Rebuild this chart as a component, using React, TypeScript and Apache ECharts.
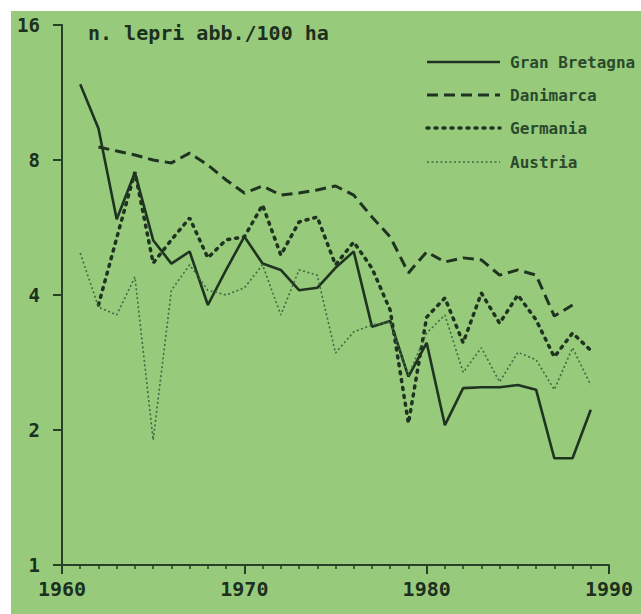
import React, { useEffect, useRef } from "react";
import * as echarts from "echarts";

const years = [1961, 1962, 1963, 1964, 1965, 1966, 1967, 1968, 1969, 1970, 1971, 1972, 1973, 1974, 1975, 1976, 1977, 1978, 1979, 1980, 1981, 1982, 1983, 1984, 1985, 1986, 1987, 1988, 1989];
const granBretagna = [11.8, 9.4, 5.9, 7.5, 5.3, 4.7, 5.0, 3.8, 4.55, 5.4, 4.7, 4.55, 4.1, 4.15, 4.6, 5.0, 3.4, 3.5, 2.63, 3.13, 2.05, 2.48, 2.49, 2.49, 2.52, 2.46, 1.73, 1.73, 2.22];
const danimarca = [null, 8.55, 8.38, 8.21, 8.0, 7.88, 8.29, 7.8, 7.22, 6.75, 7.0, 6.68, 6.75, 6.86, 7.0, 6.68, 5.97, 5.39, 4.48, 4.99, 4.74, 4.84, 4.79, 4.43, 4.55, 4.43, 3.59, 3.8, null];
const germania = [null, 3.8, 5.36, 7.52, 4.71, 5.31, 5.94, 4.84, 5.31, 5.39, 6.35, 4.91, 5.82, 5.97, 4.67, 5.25, 4.59, 3.7, 2.07, 3.57, 3.94, 3.13, 4.04, 3.46, 4.0, 3.52, 2.91, 3.29, 3.01];
const austria = [4.96, 3.76, 3.61, 4.39, 1.9, 4.1, 4.67, 4.1, 4.0, 4.15, 4.67, 3.61, 4.55, 4.43, 2.97, 3.31, 3.43, 3.48, 2.65, 3.29, 3.61, 2.69, 3.05, 2.56, 2.98, 2.87, 2.46, 3.05, 2.52];
const seriesNames = ["Gran Bretagna", "Danimarca", "Germania", "Austria"];
const titleText = "n. lepri abb./100 ha";

const FONT = "'DejaVu Sans Mono', 'Liberation Mono', monospace";
const INK = "#1c301e";
const DARK = "#1e3421";
const LIGHT = "#3d6a43";

const styles = [
  { color: DARK, width: 2.6, dash: null as number[] | null, cap: "butt" },
  { color: DARK, width: 3, dash: [11, 6], cap: "butt" },
  { color: DARK, width: 3.5, dash: [2, 6], cap: "round" },
  { color: LIGHT, width: 1.6, dash: [2, 2.5], cap: "butt" },
];

function pairs(vals: (number | null)[]) {
  const out: [number, number][] = [];
  vals.forEach((v, i) => {
    if (v !== null) out.push([years[i], v]);
  });
  return out;
}

export default function App() {
  const ref = useRef<HTMLDivElement>(null);
  useEffect(() => {
    document.body.style.margin = "0";
    const chart = echarts.init(ref.current!, null, { renderer: "svg" });
    const legendYs = [62, 95, 128, 162];
    const legendGraphics: any[] = [];
    seriesNames.forEach((name, i) => {
      const s = styles[i];
      legendGraphics.push({
        type: "line",
        z: 10,
        shape: { x1: 427, y1: legendYs[i], x2: 500, y2: legendYs[i] },
        style: { stroke: s.color, lineWidth: s.width, lineDash: s.dash || undefined, lineCap: s.cap },
      });
      legendGraphics.push({
        type: "text",
        z: 10,
        x: 510,
        y: legendYs[i],
        style: { text: name, font: `bold 16px ${FONT}`, fill: "#2a4a2c", textVerticalAlign: "middle" },
      });
    });
    chart.setOption({
      animation: false,
      backgroundColor: "#ffffff",
      graphic: [
        { type: "rect", z: -10, silent: true, shape: { x: 11, y: 11, width: 640, height: 610 }, style: { fill: "#98ca7c" } },
        {
          type: "text", x: 88, y: 33, z: 10,
          style: { text: titleText, font: `bold 20px ${FONT}`, fill: INK, textVerticalAlign: "middle" },
        },
        ...legendGraphics,
      ],
      grid: { left: 62, right: 32, top: 25, bottom: 49 },
      xAxis: {
        type: "value",
        min: 1960,
        max: 1990,
        interval: 10,
        splitLine: { show: false },
        axisLine: { lineStyle: { color: "#254228", width: 2 } },
        axisTick: { show: true, length: 9, lineStyle: { color: "#254228", width: 2 } },
        minorTick: { show: true, splitNumber: 10, length: 4, lineStyle: { color: "#254228", width: 1.5 } },
        axisLabel: {
          margin: 14, fontFamily: FONT, fontSize: 20, fontWeight: "bold", color: INK,
          formatter: (v: number) => String(v),
        },
      },
      yAxis: {
        type: "log",
        logBase: 2,
        min: 1,
        max: 16,
        splitLine: { show: false },
        axisLine: { show: true, lineStyle: { color: "#254228", width: 2 } },
        axisTick: { show: true, length: 9, lineStyle: { color: "#254228", width: 2 } },
        axisLabel: { margin: 22, fontFamily: FONT, fontSize: 19, fontWeight: "bold", color: INK },
      },
      series: seriesNames.map((name, i) => {
        const s = styles[i];
        const data = [granBretagna, danimarca, germania, austria][i];
        return {
          name,
          type: "line",
          data: pairs(data),
          symbol: "none",
          lineStyle: { color: s.color, width: s.width, type: s.dash || "solid", cap: s.cap },
          itemStyle: { color: s.color },
        };
      }),
    });
    return () => chart.dispose();
  }, []);
  return <div ref={ref} style={{ position: "absolute", left: 0, top: 0, width: 641, height: 614 }} />;
}
